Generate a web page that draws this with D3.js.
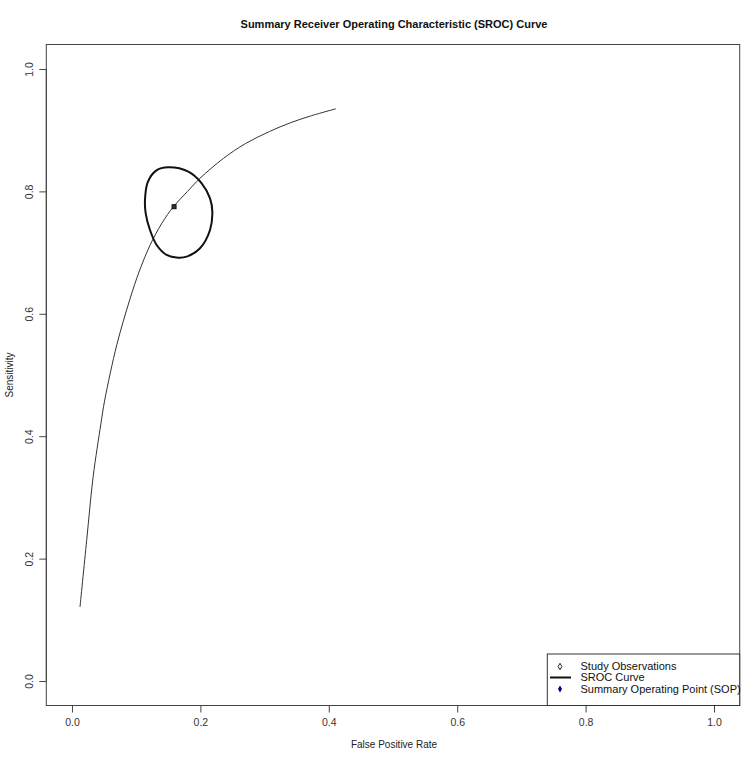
<!DOCTYPE html>
<html><head><meta charset="utf-8">
<script src="https://cdn.jsdelivr.net/npm/d3@7"></script>
<style>body{margin:0;background:#fff}svg{display:block}text{font-family:"Liberation Sans",Arial,sans-serif}</style>
</head><body><svg id="c" width="750" height="757"></svg>
<script>
// SROC curve points (FPR, sensitivity)
const srocFPR  = [0.0125,0.0229,0.033,0.045,0.051,0.07,0.090,0.105,0.1215,0.14,0.158,0.18,0.199,0.236,0.27,0.308,0.34,0.371,0.411];
const srocSens = [0.121,0.230,0.334,0.42,0.459,0.55,0.623,0.67,0.712,0.748,0.775,0.800,0.821,0.854,0.878,0.898,0.912,0.923,0.935];
// confidence region outline
const ellFPR  = [0.1501,0.1812,0.2020,0.2150,0.2186,0.2150,0.1994,0.1786,0.1656,0.1475,0.1319,0.1215,0.1148,0.1137,0.1180,0.1310];
const ellSens = [0.8393,0.8322,0.8132,0.7887,0.7669,0.7369,0.7070,0.6934,0.6917,0.6961,0.7124,0.7369,0.7642,0.7859,0.8150,0.8340];
// summary operating point
const sopFPR = [0.159], sopSens = [0.775];
const xTicks = [0,0.2,0.4,0.6,0.8,1.0];
const yTicks = [0,0.2,0.4,0.6,0.8,1.0];
const legendLabels = ["Study Observations","SROC Curve","Summary Operating Point (SOP)"];

const svg = d3.select("#c");
const x = d3.scaleLinear().domain([-0.04,1.04]).range([46.3,739.7]);
const y = d3.scaleLinear().domain([-0.04,1.04]).range([705.5,44.5]);
const axisCol = "#444";

// title
svg.append("text").attr("x",394).attr("y",28).attr("text-anchor","middle")
  .attr("font-size",11).attr("font-weight","bold").attr("fill","#111")
  .text("Summary Receiver Operating Characteristic (SROC) Curve");

// box
svg.append("rect").attr("x",x(-0.04)).attr("y",y(1.04)).attr("width",x(1.04)-x(-0.04)).attr("height",y(-0.04)-y(1.04))
  .attr("fill","none").attr("stroke",axisCol).attr("stroke-width",1);

// axes
const xa = svg.append("g").attr("transform",`translate(0,${y(-0.04)})`)
  .call(d3.axisBottom(x).tickValues(xTicks).tickFormat(d3.format(".1f")).tickSize(7).tickPadding(6));
const ya = svg.append("g").attr("transform",`translate(${x(-0.04)},0)`)
  .call(d3.axisLeft(y).tickValues(yTicks).tickFormat(d3.format(".1f")).tickSize(7).tickPadding(6));
[xa,ya].forEach(g=>{
  g.select(".domain").attr("stroke",axisCol).attr("d", g===xa ? `M${x(0)},0H${x(1)}` : `M0,${y(0)}V${y(1)}`);
  g.selectAll(".tick line").attr("stroke",axisCol);
  g.selectAll("text").attr("font-size",10.5).attr("fill","#333").attr("font-family","Liberation Sans, Arial, sans-serif");
});
xa.selectAll("text").attr("dy","0.71em");
ya.selectAll(".tick text").attr("transform","rotate(-90)").attr("text-anchor","middle")
  .attr("x",0).attr("y",-13).attr("dy","0");

// axis titles
svg.append("text").attr("x",394).attr("y",748).attr("text-anchor","middle").attr("font-size",10).attr("fill","#222").text("False Positive Rate");
svg.append("text").attr("transform",`translate(13,375) rotate(-90)`).attr("text-anchor","middle").attr("font-size",10).attr("fill","#222").text("Sensitivity");

// SROC curve
const sroc = srocFPR.map((f,i)=>[f,srocSens[i]]);
svg.append("path").datum(sroc).attr("fill","none").attr("stroke","#333").attr("stroke-width",1)
  .attr("d",d3.line().x(d=>x(d[0])).y(d=>y(d[1])).curve(d3.curveCatmullRom.alpha(0.5)));

// confidence region
const ell = ellFPR.map((f,i)=>[f,ellSens[i]]);
svg.append("path").datum(ell).attr("fill","none").attr("stroke","#111").attr("stroke-width",2)
  .attr("d",d3.line().x(d=>x(d[0])).y(d=>y(d[1])).curve(d3.curveCatmullRomClosed.alpha(0.5)));

// SOP
svg.selectAll(".sop").data(sopFPR).enter().append("rect")
  .attr("x",(d)=>x(d)-2).attr("y",(d,i)=>y(sopSens[i])-2).attr("width",4).attr("height",4)
  .attr("fill","#333").attr("stroke","#111").attr("stroke-width",1);

// legend
const lg = svg.append("g");
const lx = 547.3, ly = 654, lw = x(1.04)-547.3, lh = y(-0.04)-654;
lg.append("rect").attr("x",lx).attr("y",ly).attr("width",lw).attr("height",lh).attr("fill","#fff").attr("stroke","#333").attr("stroke-width",1);
const rowY = [666.5,677.5,689];
legendLabels.forEach((t,i)=>{
  lg.append("text").attr("x",580.5).attr("y",rowY[i]).attr("dy","0.35em").attr("font-size",11).attr("fill","#111").text(t);
});
const dia = d3.symbol().type(d3.symbolDiamond).size(12);
lg.append("path").attr("d",dia).attr("transform",`translate(560,${rowY[0]})`).attr("fill","none").attr("stroke","#222").attr("stroke-width",1);
lg.append("line").attr("x1",550).attr("x2",571).attr("y1",rowY[1]).attr("y2",rowY[1]).attr("stroke","#111").attr("stroke-width",2);
lg.append("path").attr("d",d3.symbol().type(d3.symbolDiamond).size(14)).attr("transform",`translate(560,${rowY[2]})`).attr("fill","#000080");
</script></body></html>
